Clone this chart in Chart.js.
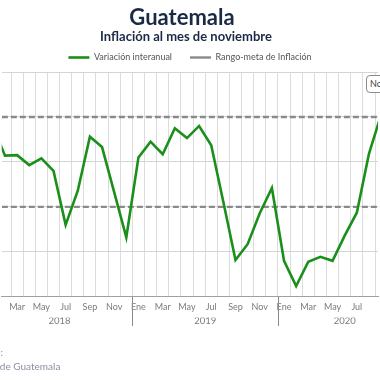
<!DOCTYPE html>
<html><head><meta charset="utf-8">
<script src="https://cdn.jsdelivr.net/npm/chart.js@4"></script>
<style>
html,body{margin:0;padding:0;width:380px;height:380px;overflow:hidden;background:#fff;font-family:'Lato','DejaVu Sans',sans-serif}
#wrap{position:absolute;left:0;top:0;width:380px;height:380px}
#src{position:absolute;left:-30px;top:345px;font-size:10px;line-height:14px;color:#8a90a2;white-space:nowrap}
#note{position:absolute;left:366px;top:75px;height:16px;line-height:16px;padding:0 3px;border:1px solid #8c8c8c;border-radius:4px;background:#fff;font-size:9px;color:#444;white-space:nowrap}
</style></head><body>
<div id="wrap"><canvas id="c"></canvas></div>
<div id="src">Fuente:<br>Banco de Guatemala</div>
<div id="note">Nov 2020</div>
<script>
// ---- data ----
const titleText = 'Guatemala';
const subtitleText = 'Inflación al mes de noviembre';
const monthNames = ['Ene','Feb','Mar','Abr','May','Jun','Jul','Ago','Sep','Oct','Nov','Dic'];
const years = ['2018','2019','2020'];
const monthsPerYear = [12, 12, 11];
const inflation = [
  4.80, 4.14, 4.15, 3.93, 4.08, 3.80, 2.60, 3.36, 4.56, 4.33, 3.33, 2.32,
  4.10, 4.45, 4.17, 4.75, 4.53, 4.80, 4.37, 3.11, 1.82, 2.17, 2.86, 3.42,
  1.80, 1.24, 1.78, 1.89, 1.80, 2.36, 2.87, 4.18, 5.05, 5.30, 5.42
];
const targetUpper = 5;
const targetLower = 3;
const yTicks = [1, 2, 3, 4, 5, 6];

// ---- derived period table ----
const periods = [];
years.forEach((y, k) => { for (let m = 0; m < monthsPerYear[k]; m++) periods.push({ year: k, month: m }); });
const yearCenters = years.map((y, k) => {
  const idx = periods.map((p, i) => p.year === k ? i : null).filter(v => v !== null);
  return (idx[0] + idx[idx.length - 1]) / 2;
});
const yearBounds = periods.map((p, i) => (p.month === 0 && i > 0) ? i - 0.5 : null).filter(v => v !== null);

const xMin = 0.73, xMax = 31.75;

const yearSep = {
  id: 'yearSep',
  afterDraw(chart) {
    const xs = chart.scales.x, ya = chart.scales.xYear, ctx = chart.ctx;
    ctx.save();
    ctx.strokeStyle = '#8a8a8a'; ctx.lineWidth = 1;
    yearBounds.forEach(v => {
      const px = Math.round(xs.getPixelForValue(v)) + 0.5;
      ctx.beginPath(); ctx.moveTo(px, chart.chartArea.bottom); ctx.lineTo(px, ya.bottom + 2); ctx.stroke();
    });
    ctx.restore();
  }
};

const header = {
  id: 'header',
  afterDraw(chart) {
    const ctx = chart.ctx, cx = chart.width / 2;
    ctx.save();
    ctx.fillStyle = '#1b2a44'; ctx.textAlign = 'center'; ctx.textBaseline = 'middle';
    ctx.font = 'bold 22px Lato';
    ctx.fillText(titleText, cx - 8, 18);
    ctx.font = 'bold 13px Lato';
    ctx.fillText(subtitleText, cx - 4, 37);
    ctx.restore();
  }
};

new Chart(document.getElementById('c'), {
  type: 'line',
  data: {
    datasets: [
      { label: 'Variación interanual', data: inflation.map((v, i) => ({ x: i, y: v })),
        borderColor: '#1a8f1a', backgroundColor: '#1a8f1a', borderWidth: 2.6, pointRadius: 0, tension: 0 },
      { label: 'Rango-meta de Inflación', data: periods.map((p, i) => ({ x: i, y: targetUpper })),
        borderColor: '#8a8a8a', backgroundColor: '#8a8a8a', borderWidth: 2.4, borderDash: [6, 3], pointRadius: 0 },
      { label: 'Rango-meta de Inflación (inferior)', data: periods.map((p, i) => ({ x: i, y: targetLower })),
        borderColor: '#8a8a8a', backgroundColor: '#8a8a8a', borderWidth: 2.4, borderDash: [6, 3], pointRadius: 0 }
    ]
  },
  options: {
    responsive: true, maintainAspectRatio: false, animation: false,
    layout: { padding: { left: 0, right: 0, top: 35, bottom: 56 } },
    plugins: {
      title: { display: false },
      legend: { display: true, position: 'top',
        labels: { usePointStyle: true, pointStyle: 'line', pointStyleWidth: 21, color: '#555',
          font: { family: 'Lato', size: 9 }, padding: 18,
          filter: (item) => item.datasetIndex < 2 } },
      tooltip: { enabled: false }
    },
    scales: {
      x: { type: 'linear', position: 'bottom', min: xMin, max: xMax,
        afterBuildTicks: ax => {
          const t = [];
          periods.forEach((p, i) => { t.push({ value: i }); t.push({ value: i + 0.5 }); });
          ax.ticks = t.filter(k => k.value >= ax.min && k.value <= ax.max);
        },
        ticks: { autoSkip: false, maxRotation: 0, padding: 5, color: '#7a7a7a',
          font: { family: 'Lato', size: 9 },
          callback: (v) => (Number.isInteger(v) && periods[v] && periods[v].month % 2 === 0) ? monthNames[periods[v].month] : '' },
        grid: { drawTicks: false, color: c => (c.tick && !Number.isInteger(c.tick.value)) ? '#dcdcdc' : 'rgba(0,0,0,0)' },
        border: { display: true, color: '#a0a0a0', width: 1 }
      },
      xYear: { type: 'linear', position: 'bottom', min: xMin, max: xMax,
        afterBuildTicks: ax => { ax.ticks = yearCenters.map(v => ({ value: v })); },
        ticks: { autoSkip: false, maxRotation: 0, padding: -2.5, color: '#7a7a7a',
          font: { family: 'Lato', size: 9.5 }, callback: (v, i) => years[i] },
        grid: { display: false, drawTicks: false }, border: { display: false }
      },
      y: { type: 'linear', min: 1, max: 6,
        afterBuildTicks: ax => { ax.ticks = yTicks.map(v => ({ value: v })); },
        ticks: { display: false },
        grid: { drawTicks: false, color: '#d4d4d4' }, border: { display: false }
      }
    }
  },
  plugins: [yearSep, header]
});
</script>
</body></html>
